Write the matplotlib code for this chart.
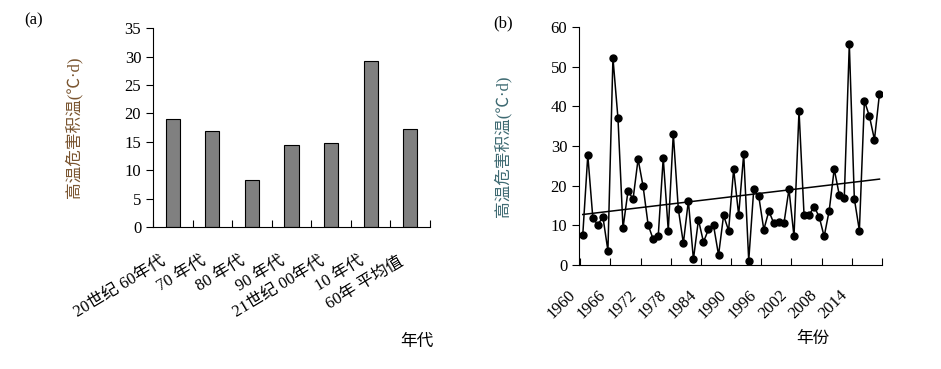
import numpy as np
import matplotlib
matplotlib.use("Agg")
import matplotlib.pyplot as plt

plt.rcParams['font.family'] = ['Liberation Serif', 'Noto Sans CJK SC']
plt.rcParams['font.size'] = 12

# (a) 各年代平均
decades = ["20世纪 60年代", "70 年代", "80 年代", "90 年代", "21世纪 00年代", "10 年代", "60年 平均值"]
decade_vals = [19.0, 16.9, 8.3, 14.4, 14.8, 29.2, 17.2]

# (b) 逐年
years = list(range(1960, 2020))
year_vals = [7.6, 27.7, 11.9, 10.1, 12.2, 3.6, 52.2, 37.0, 9.3, 18.7,
             16.6, 26.7, 19.8, 10.1, 6.5, 7.2, 27.0, 8.7, 33.1, 14.1,
             5.5, 16.2, 1.4, 11.4, 5.8, 9.0, 10.0, 2.5, 12.5, 8.7,
             24.2, 12.6, 28.0, 1.1, 19.1, 17.3, 8.9, 13.6, 10.5, 10.9,
             10.5, 19.1, 7.2, 38.9, 12.6, 12.6, 14.7, 12.2, 7.2, 13.7,
             24.2, 17.7, 17.0, 55.7, 16.7, 8.7, 41.4, 37.5, 31.6, 43.2]
year_ticks = [str(y) for y in range(1960, 2020, 6)]

ylab = "高温危害积温(℃·d)"

fig = plt.figure(figsize=(9.41, 3.69), dpi=100)

# ---- panel a
ax1 = fig.add_axes([0.1626, 0.3848, 0.2944, 0.539])
xa = np.arange(len(decades)) + 0.5
ax1.bar(xa, decade_vals, width=0.36, color='#808080', edgecolor='black', linewidth=0.8)
ax1.set_xlim(0, len(decades))
ax1.set_ylim(0, 35)
ax1.set_yticks(range(0, 36, 5))
ax1.set_xticks(np.arange(0, len(decades) + 1))
ax1.set_xticklabels([])
# labels sit a bit left of the bar centre, like the original
ax1.set_xticks(xa - 0.1, minor=True)
ax1.set_xticklabels(decades, minor=True, rotation=31, ha='right', va='top')
ax1.tick_params(axis='x', which='minor', length=0, pad=19)
ax1.tick_params(axis='x', which='major', direction='in', length=5)
ax1.tick_params(axis='y', direction='out', length=5)
for s in ['top', 'right']:
    ax1.spines[s].set_visible(False)
ax1.set_ylabel(ylab, color='#7a5530', labelpad=30)
fig.text(0.443, 0.073, "年代", ha='center', va='center')
fig.text(0.036, 0.945, "(a)", ha='center', va='center')

# ---- panel b
ax2 = fig.add_axes([0.6153, 0.2818, 0.322, 0.645])
xb = np.arange(len(years)) + 0.5
ax2.plot(xb, year_vals, color='black', linewidth=1.1, marker='o', markersize=5)
k, b = np.polyfit(xb, year_vals, 1)
ax2.plot([xb[0], xb[-1]], [k * xb[0] + b, k * xb[-1] + b], color='black', linewidth=1.1)
ax2.set_xlim(0, len(years))
ax2.set_ylim(0, 60)
ax2.set_yticks(range(0, 61, 10))
ax2.set_xticks(np.arange(0, len(years) + 1, 6))
ax2.set_xticklabels([])
ax2.set_xticks(np.arange(0, len(years), 6) - 0.25, minor=True)
ax2.set_xticklabels(year_ticks, minor=True, rotation=45, ha='right', va='top')
ax2.tick_params(axis='x', which='minor', length=0, pad=16)
ax2.tick_params(axis='x', which='major', direction='in', length=5)
ax2.tick_params(axis='y', direction='out', length=5)
for s in ['top', 'right']:
    ax2.spines[s].set_visible(False)
ax2.set_ylabel(ylab, color='#3e6a72', labelpad=28)
fig.text(0.864, 0.081, "年份", ha='center', va='center')
fig.text(0.535, 0.937, "(b)", ha='center', va='center')

fig.savefig("out.png", dpi=100)
